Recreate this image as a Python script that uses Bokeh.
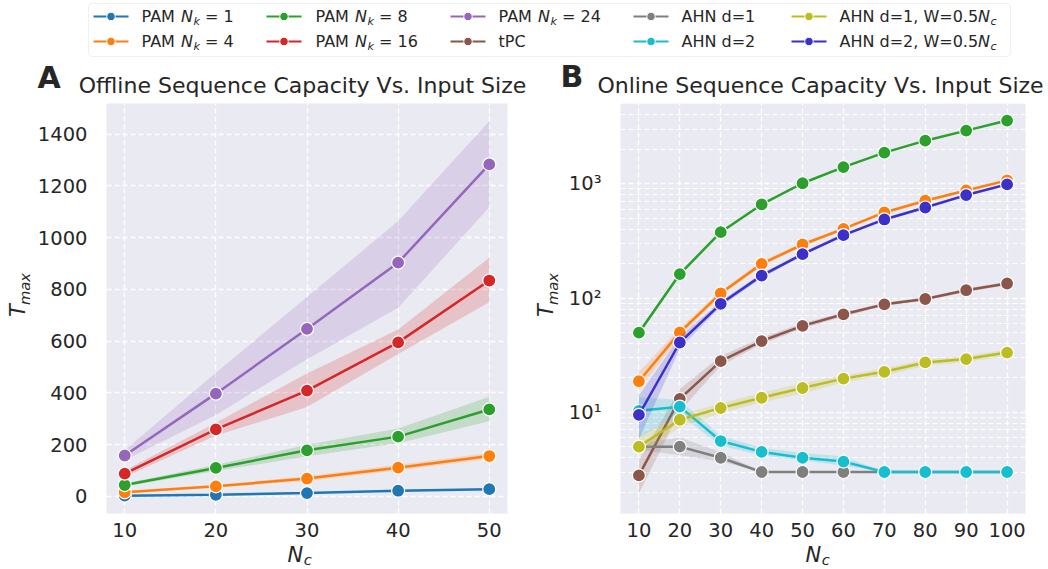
import math
from bokeh.plotting import figure
from bokeh.layouts import column, row
from bokeh.models import Range1d, FixedTicker, BoxAnnotation
from bokeh.embed import file_html
from bokeh.resources import INLINE
from bokeh.core.properties import value

FONT = "DejaVu Sans"
TXT = "#262626"
BG = "#EAEAF2"

# ---------------- Panel A data (offline) ----------------
nc_a = [10, 20, 30, 40, 50]
pam1_a = [3, 6, 13, 22, 28]
pam1_a_lo = [2, 5, 11, 19, 25]
pam1_a_hi = [4, 8, 15, 25, 31]
pam4_a = [16, 39, 69, 111, 156]
pam4_a_lo = [12, 34, 60, 100, 145]
pam4_a_hi = [20, 44, 78, 122, 168]
pam8_a = [44, 110, 178, 231, 336]
pam8_a_lo = [38, 98, 155, 205, 290]
pam8_a_hi = [50, 122, 200, 262, 385]
pam16_a = [88, 259, 409, 595, 834]
pam16_a_lo = [75, 235, 345, 550, 750]
pam16_a_hi = [100, 285, 475, 645, 922]
pam24_a = [158, 397, 647, 903, 1283]
pam24_a_lo = [140, 315, 530, 729, 1117]
pam24_a_hi = [178, 478, 770, 1064, 1449]

# ---------------- Panel B data (online) ----------------
nc_b = [10, 20, 30, 40, 50, 60, 70, 80, 90, 100]
pam4_b = [18.7, 50, 110, 199, 294, 403, 561, 710, 874, 1070]
pam4_b_lo = [15.5, 46, 104, 190, 283, 390, 545, 690, 852, 1045]
pam4_b_hi = [22.5, 54, 116, 208, 305, 416, 577, 730, 896, 1095]
pam8_b = [49.7, 162, 377, 659, 1010, 1400, 1871, 2383, 2918, 3573]
pam8_b_lo = [47.5, 157, 368, 645, 990, 1375, 1840, 2345, 2875, 3520]
pam8_b_hi = [52, 167, 386, 673, 1030, 1425, 1900, 2420, 2960, 3625]
tpc_b = [2.8, 13.1, 28, 42, 57, 72, 88, 98, 117, 134]
tpc_b_lo = [1.95, 10.2, 25.5, 39.5, 54, 69, 85, 95, 113, 129]
tpc_b_hi = [3.8, 16, 31, 45, 60, 75, 91, 101, 121, 139]
ahn1_b = [5.0, 5.0, 4.0, 3, 3, 3, 3, 3, 3, 3]
ahn1_b_lo = [4.7, 4.2, 3.7, 3, 3, 3, 3, 3, 3, 3]
ahn1_b_hi = [5.3, 6.0, 4.5, 3, 3, 3, 3, 3, 3, 3]
ahn2_b = [10.3, 11.2, 5.6, 4.5, 4.0, 3.7, 3, 3, 3, 3]
ahn2_b_lo = [6.0, 9.6, 5.1, 4.2, 3.8, 3.4, 3, 3, 3, 3]
ahn2_b_hi = [13.5, 12.8, 6.2, 4.9, 4.4, 4.1, 3, 3, 3, 3]
ahn1w_b = [5.0, 8.6, 10.9, 13.4, 16.3, 19.7, 22.6, 27.3, 29.2, 33.3]
ahn1w_b_lo = [4.2, 7.4, 9.8, 12.2, 14.5, 18.3, 21, 25.5, 27.5, 31]
ahn1w_b_hi = [6.2, 9.5, 12, 14.8, 18, 21, 24.3, 29, 31, 35.5]
ahn2w_b = [9.5, 40.8, 89, 157, 242, 355, 487, 620, 796, 987]
ahn2w_b_lo = [5.8, 36, 84, 150, 233, 344, 472, 603, 775, 962]
ahn2w_b_hi = [14, 46, 94, 164, 251, 366, 502, 637, 817, 1012]

C_PAM1 = "#1f77b4"
C_PAM4 = "#ff7f0e"
C_PAM8 = "#2ca02c"
C_PAM16 = "#d62728"
C_PAM24 = "#9467bd"
C_TPC = "#8c564b"
C_AHN1 = "#7f7f7f"
C_AHN2 = "#17becf"
C_AHN1W = "#bcbd22"
C_AHN2W = "#3b31c8"

x_ticks_a = [10, 20, 30, 40, 50]
y_ticks_a = [0, 200, 400, 600, 800, 1000, 1200, 1400]
x_ticks_b = [10, 20, 30, 40, 50, 60, 70, 80, 90, 100]
y_ticks_b = [10, 100, 1000]
y_tick_labels_b = {10: "10¹", 100: "10²", 1000: "10³"}

title_a = "Offline Sequence Capacity Vs. Input Size"
title_b = "Online Sequence Capacity Vs. Input Size"

# layout sizes (pixels)
FRAME_W = 410
FRAME_H = 410
TOP_H = 103
BOT_AX = 27
FOOT_H = 28
YLA_W, PA_L, PA_R = 34, 63, 19
YLB_W, PB_L, PB_R = 39, 50, 21
TOTAL_W = YLA_W + PA_L + FRAME_W + PA_R + YLB_W + PB_L + FRAME_W + PB_R
# measured drop of the rendered alphabetic baseline, as a fraction of font size
BASE_DROP = 0.36


def blank(width, height, y_start, y_end):
    f = figure(width=width, height=height, x_range=Range1d(0, width), y_range=Range1d(y_start, y_end),
               output_backend="svg", toolbar_location=None, min_border=0,
               x_axis_location=None, y_axis_location=None)
    f.grid.visible = False
    f.outline_line_color = None
    f.background_fill_color = "white"
    f.border_fill_color = "white"
    return f


def txt(f, xs, ys, ts, size, style="normal", align="left", angle=0.0):
    f.text(x=xs, y=ys, text=ts, text_font=value(FONT), text_font_size=f"{size}px",
           text_font_style=style, text_color=TXT, text_baseline="alphabetic",
           text_align=align, angle=angle)


def style_axes(p):
    p.background_fill_color = BG
    p.border_fill_color = "white"
    p.outline_line_color = None
    for ax in p.axis:
        ax.axis_line_color = None
        ax.major_tick_line_color = None
        ax.minor_tick_line_color = None
        ax.major_label_text_font = FONT
        ax.major_label_text_font_size = "19.5px"
        ax.major_label_text_color = TXT
    p.xaxis.major_label_standoff = 3
    p.yaxis.major_label_standoff = 13
    for g in p.grid:
        g.grid_line_color = "white"
        g.grid_line_dash = "5 3"
        g.grid_line_width = 1.3


def series(p, x, y, lo, hi, color):
    p.varea(x=x, y1=lo, y2=hi, fill_color=color, fill_alpha=0.2)
    p.line(x=x, y=y, line_color=color, line_width=2.5)
    p.scatter(x=x, y=y, size=13, fill_color=color, line_color="white", line_width=1.2)


# ---------------- Panel A ----------------
pA = figure(width=PA_L + FRAME_W + PA_R, height=FRAME_H + BOT_AX, x_range=Range1d(8, 52),
            y_range=Range1d(-66, 1518), output_backend="svg", toolbar_location=None,
            min_border_left=PA_L, min_border_right=PA_R, min_border_top=0, min_border_bottom=BOT_AX)
style_axes(pA)
pA.xaxis.ticker = FixedTicker(ticks=x_ticks_a)
pA.yaxis.ticker = FixedTicker(ticks=y_ticks_a)
pA.xgrid.ticker = FixedTicker(ticks=x_ticks_a)
pA.ygrid.ticker = FixedTicker(ticks=y_ticks_a)
series(pA, nc_a, pam1_a, pam1_a_lo, pam1_a_hi, C_PAM1)
series(pA, nc_a, pam4_a, pam4_a_lo, pam4_a_hi, C_PAM4)
series(pA, nc_a, pam8_a, pam8_a_lo, pam8_a_hi, C_PAM8)
series(pA, nc_a, pam16_a, pam16_a_lo, pam16_a_hi, C_PAM16)
series(pA, nc_a, pam24_a, pam24_a_lo, pam24_a_hi, C_PAM24)

# ---------------- Panel B ----------------
pB = figure(width=PB_L + FRAME_W + PB_R, height=FRAME_H + BOT_AX, x_range=Range1d(5.5, 104.5),
            y_range=Range1d(1.3, 5040), y_axis_type="log", output_backend="svg",
            toolbar_location=None, min_border_left=PB_L, min_border_right=PB_R,
            min_border_top=0, min_border_bottom=BOT_AX)
style_axes(pB)
minor_b = [m * d for d in (1, 10, 100, 1000) for m in range(2, 10) if m * d <= 5000]
pB.xaxis.ticker = FixedTicker(ticks=x_ticks_b)
pB.xgrid.ticker = FixedTicker(ticks=x_ticks_b)
tkB = FixedTicker(ticks=y_ticks_b, minor_ticks=minor_b)
pB.yaxis.ticker = tkB
pB.ygrid.ticker = tkB
pB.yaxis.major_label_overrides = y_tick_labels_b
pB.ygrid.minor_grid_line_color = "white"
pB.ygrid.minor_grid_line_dash = "5 3"
pB.ygrid.minor_grid_line_width = 1.1
series(pB, nc_b, pam4_b, pam4_b_lo, pam4_b_hi, C_PAM4)
series(pB, nc_b, pam8_b, pam8_b_lo, pam8_b_hi, C_PAM8)
series(pB, nc_b, tpc_b, tpc_b_lo, tpc_b_hi, C_TPC)
series(pB, nc_b, ahn1_b, ahn1_b_lo, ahn1_b_hi, C_AHN1)
series(pB, nc_b, ahn2_b, ahn2_b_lo, ahn2_b_hi, C_AHN2)
series(pB, nc_b, ahn1w_b, ahn1w_b_lo, ahn1w_b_hi, C_AHN1W)
series(pB, nc_b, ahn2w_b, ahn2w_b_lo, ahn2w_b_hi, C_AHN2W)

# ---------------- Y-label strips (T_max, rotated) ----------------
LBL = 21
LSUB = 14.7
PH = FRAME_H + BOT_AX
yc = PH - FRAME_H / 2.0
ylabA = blank(YLA_W, PH, 0, PH)
txt(ylabA, [25 - BASE_DROP * LBL], [yc - 22.5], ["T"], LBL, "italic", angle=math.pi / 2)
txt(ylabA, [29.4 - BASE_DROP * LSUB], [yc - 9.7], ["max"], LSUB, "italic", angle=math.pi / 2)
ylabB = blank(YLB_W, PH, 0, PH)
txt(ylabB, [27 - BASE_DROP * LBL], [yc - 22.5], ["T"], LBL, "italic", angle=math.pi / 2)
txt(ylabB, [31.4 - BASE_DROP * LSUB], [yc - 9.7], ["max"], LSUB, "italic", angle=math.pi / 2)

# ---------------- Footer strip (N_c) ----------------
cxA = YLA_W + PA_L + FRAME_W / 2.0
cxB = YLA_W + PA_L + FRAME_W + PA_R + YLB_W + PB_L + FRAME_W / 2.0
foot = blank(TOTAL_W, FOOT_H, FOOT_H, 0)
nb = 22 - BASE_DROP * LBL
cb = 24.5 - BASE_DROP * LSUB
txt(foot, [cxA - 15, cxB - 15], [nb, nb], ["N", "N"], LBL, "italic")
txt(foot, [cxA + 1.2, cxB + 1.2], [cb, cb], ["c", "c"], LSUB, "italic")

# ---------------- Top strip: legend + panel titles ----------------
legend_colors = [C_PAM1, C_PAM4, C_PAM8, C_PAM16, C_PAM24, C_TPC, C_AHN1, C_AHN2, C_AHN1W, C_AHN2W]
legend_labels = [
    [("PAM ", "n"), ("N", "i"), ("k", "s"), (" = 1", "n")],
    [("PAM ", "n"), ("N", "i"), ("k", "s"), (" = 4", "n")],
    [("PAM ", "n"), ("N", "i"), ("k", "s"), (" = 8", "n")],
    [("PAM ", "n"), ("N", "i"), ("k", "s"), (" = 16", "n")],
    [("PAM ", "n"), ("N", "i"), ("k", "s"), (" = 24", "n")],
    [("tPC", "n")],
    [("AHN d=1", "n")],
    [("AHN d=2", "n")],
    [("AHN d=1, W=0.5", "n"), ("N", "i"), ("c", "s")],
    [("AHN d=2, W=0.5", "n"), ("N", "i"), ("c", "s")],
]
col_line_x0 = [93, 266, 450, 633, 791]
col_text_x = [141, 315, 498, 681, 839]
row_mid = [16.0, 41.0]
row_base = [21.7, 46.7]

ADV = {' ': 651, 'P': 1235, 'A': 1401, 'M': 1767, 'N': 1532, 'k': 1186, '=': 1716,
       '0': 1303, '1': 1303, '2': 1303, '4': 1303, '5': 1303, '6': 1303, '8': 1303,
       't': 803, 'C': 1430, 'H': 1540, 'd': 1300, ',': 651, 'W': 2025, '.': 651, 'c': 1126}
LS = 16.0
SUB = 11.2


def tw(s, size):
    return sum(ADV.get(ch, 1300) for ch in s) / 2048.0 * size


top = blank(TOTAL_W, TOP_H, TOP_H, 0)
top.add_layout(BoxAnnotation(left=88, right=1010, top=3, bottom=56, fill_color="white",
                             fill_alpha=1.0, line_color="#cccccc", line_width=1.2,
                             border_radius=4, level="underlay"))

seg_x0, seg_x1, seg_y, mk_x = [], [], [], []
pieces = {"n": ([], [], []), "i": ([], [], []), "s": ([], [], [])}
for k, parts in enumerate(legend_labels):
    ci, ri = k // 2, k % 2
    x0 = col_line_x0[ci]
    seg_x0.append(x0)
    seg_x1.append(x0 + 35)
    seg_y.append(row_mid[ri])
    mk_x.append(x0 + 17.5)
    cx = col_text_x[ci]
    for t, st in parts:
        size = SUB if st == "s" else LS
        lead = t[:len(t) - len(t.lstrip(" "))]
        cx += tw(lead, size)
        body = t.strip(" ")
        yy = row_base[ri] + (3.5 if st == "s" else 0) - BASE_DROP * size
        pieces[st][0].append(cx)
        pieces[st][1].append(yy)
        pieces[st][2].append(body)
        cx += tw(t.lstrip(" "), size) + (0.5 if st == "i" else 0)

top.segment(x0=seg_x0, y0=seg_y, x1=seg_x1, y1=seg_y, line_color=legend_colors, line_width=2.2)
top.scatter(x=mk_x, y=seg_y, size=8.5, fill_color=legend_colors, line_color="white", line_width=1)
for st, fstyle, fsize in (("n", "normal", LS), ("i", "italic", LS), ("s", "italic", SUB)):
    xs, ys, ts = pieces[st]
    txt(top, xs, ys, ts, fsize, fstyle)

LET = 30
TIT = 22
txt(top, [37, 560], [88 - BASE_DROP * LET, 87 - BASE_DROP * LET], ["A", "B"], LET, "bold")
txt(top, [cxA, cxB], [93 - BASE_DROP * TIT] * 2, [title_a, title_b], TIT, "normal", align="center")

layout = column(top, row(ylabA, pA, ylabB, pB), foot)
open("out.html", "w").write(file_html(layout, INLINE))
